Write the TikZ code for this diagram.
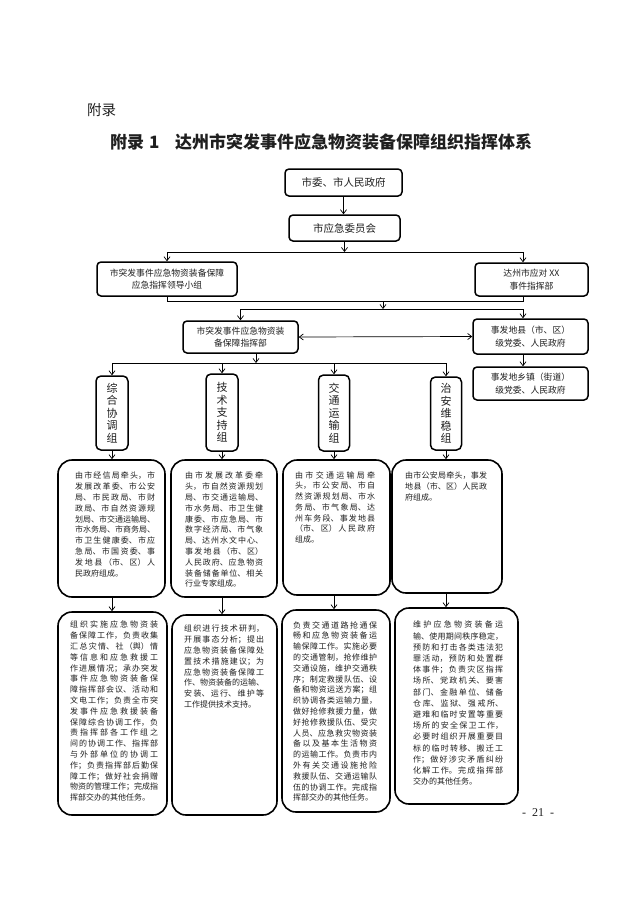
\documentclass[tikz,border=0pt]{standalone}
\usepackage{fontspec}
\setmainfont{Noto Sans CJK SC}
\newfontfamily\serifnum{Liberation Serif}
\usetikzlibrary{arrows.meta}
\XeTeXlinebreaklocale "zh"
\XeTeXlinebreakskip=0pt plus 1fil
\XeTeXlinebreakpenalty=10000
\hbadness=10000
\vbadness=10000
\hfuzz=40pt
\definecolor{txt}{gray}{0.12}
\newcommand\jst{\leftskip=0pt\rightskip=0pt\parfillskip=0pt plus 1fill\parindent=0pt\noindent}
\newcommand\je{\hskip 0pt plus 1filll\null}
\newcommand\nl{\linebreak}
\begin{document}
\begin{tikzpicture}[x=1pt,y=-1pt,
  every node/.style={text=txt},
  ubox/.style={draw=black, line width=1.5pt, rounded corners=4pt, inner sep=0pt, align=center, font=\fontsize{8.8}{12.5}\selectfont},
  gbox/.style={draw=black, line width=1.5pt, rounded corners=5pt, inner sep=0pt, align=center, font=\fontsize{11}{12.5}\selectfont},
  dbox/.style={draw=black, line width=1.6pt, rounded corners=14pt, inner sep=0pt},
  dtext/.style={anchor=north west, inner sep=0pt, font=\fontsize{8}{10.8}\selectfont},
  arr/.style={line width=0.7pt, -{Straight Barb[length=4pt,width=6pt]}},
  darr/.style={line width=0.7pt, {Straight Barb[length=4pt,width=6pt]}-{Straight Barb[length=4pt,width=6pt]}},
  ln/.style={line width=0.7pt},
]
\useasboundingbox (0,0) rectangle (640,906);

% headings
\node[anchor=west, inner sep=0pt, font=\fontsize{14.5}{16}\selectfont] (appx) at (87,110) {附录};
\node[anchor=west, inner sep=0pt, font=\fontsize{17}{20}\selectfont\bfseries] (tnum) at (110,142) {附录\hspace{5pt}1};
\node[anchor=west, inner sep=0pt, font=\fontsize{17}{20}\selectfont\bfseries] (title) at (175,142) {达州市突发事件应急物资装备保障组织指挥体系};

% upper boxes
\node[ubox, minimum width=117pt, minimum height=27pt, font=\fontsize{10.5}{12}\selectfont] (gov) at (343.5,182.5) {市委、市人民政府};
\node[ubox, minimum width=111pt, minimum height=26pt, font=\fontsize{10.5}{12}\selectfont] (emc) at (344.5,228) {市应急委员会};
\node[ubox, minimum width=140pt, minimum height=34pt] (lead) at (167,279) {市突发事件应急物资装备保障\\应急指挥领导小组};
\node[ubox, minimum width=113pt, minimum height=33pt] (xx) at (531.5,279.5) {达州市应对 XX\\事件指挥部};
\node[ubox, minimum width=115pt, minimum height=32pt] (cmd) at (240.5,337) {市突发事件应急物资装\\备保障指挥部};
\node[ubox, minimum width=115pt, minimum height=35pt] (county) at (530.5,336.5) {事发地县（市、区）\\级党委、人民政府};
\node[ubox, minimum width=115pt, minimum height=33pt] (town) at (530.5,383.5) {事发地乡镇（街道）\\级党委、人民政府};

% group boxes
\node[gbox, minimum width=32pt, minimum height=74pt] (g1) at (112,413) {综\\合\\协\\调\\组};
\node[gbox, minimum width=32pt, minimum height=77pt] (g2) at (222,412.5) {技\\术\\支\\持\\组};
\node[gbox, minimum width=31pt, minimum height=76pt] (g3) at (334,413) {交\\通\\运\\输\\组};
\node[gbox, minimum width=31pt, minimum height=73pt] (g4) at (446,413.5) {治\\安\\维\\稳\\组};

% row 1 boxes
\node[dbox, minimum width=107pt, minimum height=137pt] (r1a) at (111.5,528.5) {};
\node[dbox, minimum width=106pt, minimum height=137pt] (r1b) at (224,528.5) {};
\node[dbox, minimum width=107pt, minimum height=135pt] (r1c) at (336.5,527.5) {};
\node[dbox, minimum width=110pt, minimum height=133pt] (r1d) at (447,526.5) {};

% row 2 boxes
\node[dbox, minimum width=109pt, minimum height=203pt] (r2a) at (112.5,713.5) {};
\node[dbox, minimum width=105pt, minimum height=200pt] (r2b) at (224.5,715) {};
\node[dbox, minimum width=108pt, minimum height=202pt] (r2c) at (336,711) {};
\node[dbox, minimum width=123pt, minimum height=196pt] (r2d) at (456.5,706) {};

% row 1 texts
\node[dtext, text width=80pt] (t1a) at (75,472) {\jst 由市经信局牵头，市\nl 发展改革委、市公安\nl 局、市民政局、市财\nl 政局、市自然资源规\nl 划局、市交通运输局、\nl 市水务局、市商务局、\nl 市卫生健康委、市应\nl 急局、市国资委、事\nl 发地县（市、区）人\nl 民政府组成。\je};
\node[dtext, text width=78pt] (t1b) at (185,472) {\jst 由市发展改革委牵\nl 头，市自然资源规划\nl 局、市交通运输局、\nl 市水务局、市卫生健\nl 康委、市应急局、市\nl 数字经济局、市气象\nl 局、达州水文中心、\nl 事发地县（市、区）\nl 人民政府、应急物资\nl 装备储备单位、相关\nl 行业专家组成。\je};
\node[dtext, text width=80pt] (t1c) at (295,471) {\jst 由市交通运输局牵\nl 头，市公安局、市自\nl 然资源规划局、市水\nl 务局、市气象局、达\nl 州车务段、事发地县\nl （市、区）人民政府\nl 组成。\je};
\node[dtext, text width=82pt] (t1d) at (405,472) {\jst 由市公安局牵头，事发\nl 地县（市、区）人民政\nl 府组成。\je};

% row 2 texts
\node[dtext, text width=88pt] (t2a) at (70,621) {\jst 组织实施应急物资装\nl 备保障工作，负责收集\nl 汇总灾情、社（舆）情\nl 等信息和应急救援工\nl 作进展情况；承办突发\nl 事件应急物资装备保\nl 障指挥部会议、活动和\nl 文电工作；负责全市突\nl 发事件应急救援装备\nl 保障综合协调工作，负\nl 责指挥部各工作组之\nl 间的协调工作、指挥部\nl 与外部单位的协调工\nl 作；负责指挥部后勤保\nl 障工作；做好社会捐赠\nl 物资的管理工作；完成指\nl 挥部交办的其他任务。\je};
\node[dtext, text width=80pt] (t2b) at (184,625) {\jst 组织进行技术研判，\nl 开展事态分析；提出\nl 应急物资装备保障处\nl 置技术措施建议；为\nl 应急物资装备保障工\nl 作、物资装备的运输、\nl 安装、运行、维护等\nl 工作提供技术支持。\je};
\node[dtext, text width=84pt] (t2c) at (293,621) {\jst 负责交通道路抢通保\nl 畅和应急物资装备运\nl 输保障工作。实施必要\nl 的交通管制，抢修维护\nl 交通设施，维护交通秩\nl 序；制定救援队伍、设\nl 备和物资运送方案；组\nl 织协调各类运输力量，\nl 做好抢修救援力量，做\nl 好抢修救援队伍、受灾\nl 人员、应急救灾物资装\nl 备以及基本生活物资\nl 的运输工作。负责市内\nl 外有关交通设施抢险\nl 救援队伍、交通运输队\nl 伍的协调工作。完成指\nl 挥部交办的其他任务。\je};
\node[dtext, text width=90pt, font=\fontsize{8}{11.2}\selectfont] (t2d) at (413,621) {\jst 维护应急物资装备运\nl 输、使用期间秩序稳定，\nl 预防和打击各类违法犯\nl 罪活动，预防和处置群\nl 体事件；负责灾区指挥\nl 场所、党政机关、要害\nl 部门、金融单位、储备\nl 仓库、监狱、强戒所、\nl 避难和临时安置等重要\nl 场所的安全保卫工作，\nl 必要时组织开展重要目\nl 标的临时转移、搬迁工\nl 作；做好涉灾矛盾纠纷\nl 化解工作。完成指挥部\nl 交办的其他任务。\je};

% page number
\node[inner sep=0pt, font=\serifnum\fontsize{12}{14}\selectfont] (pg) at (538,813) {-\hspace{6pt}21\hspace{6pt}-};

% connectors
\coordinate (xR) at (523,0);
\coordinate (b1) at (344,252);
\coordinate (b2) at (383,301);
\coordinate (b3) at (383,309);
\coordinate (b4) at (256,363);

\draw[arr] (gov.south) -- (emc.north -| gov.south);
\draw[arr] (emc.south) -- (emc.south |- b1);
\draw[ln] (lead.north |- b1) -- (b1 -| xR);
\draw[arr] (lead.north |- b1) -- (lead.north);
\draw[arr] (b1 -| xR) -- (xx.north -| xR);

\draw[ln] (lead.south) -- (lead.south |- b2) -- (b2 -| xR) -- (xx.south -| xR);
\draw[arr] (b2) -- (b3);
\draw[ln] (b3 -| cmd.north) -- (b3 -| xR);
\draw[arr] (b3 -| cmd.north) -- (cmd.north);
\draw[arr] (b3 -| xR) -- (county.north -| xR);

\draw[darr] (cmd.east) -- (county.west);
\draw[arr] (county.south -| xR) -- (town.north -| xR);

\draw[arr] (cmd.south -| b4) -- (b4);
\draw[ln] (b4 -| g1) -- (b4 -| g4);
\foreach \g in {g1,g2,g3,g4} \draw[arr] (b4 -| \g) -- (\g.north);

\draw[arr] (g1.south) -- (r1a.north -| g1.south);
\draw[arr] (g2.south) -- (r1b.north -| g2.south);
\draw[arr] (g3.south) -- (r1c.north -| g3.south);
\draw[arr] (g4.south) -- (r1d.north -| g4.south);

\draw[arr] (r1a.south -| g1) -- (r2a.north -| g1);
\draw[arr] (r1b.south -| g2) -- (r2b.north -| g2);
\draw[arr] (r1c.south -| g3) -- (r2c.north -| g3);
\draw[arr] (r1d.south -| g4) -- (r2d.north -| g4);
\end{tikzpicture}
\end{document}
